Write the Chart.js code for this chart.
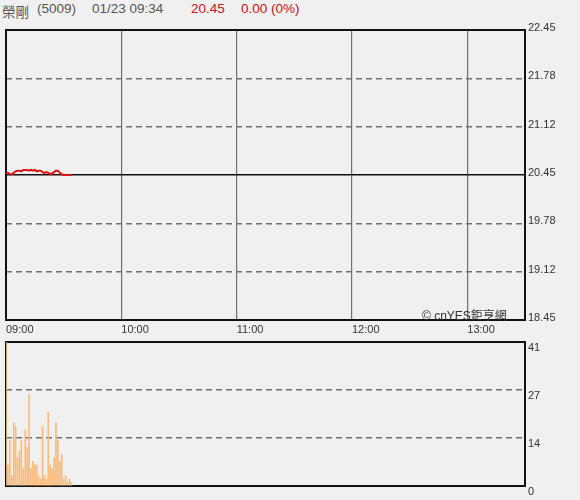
<!DOCTYPE html>
<html>
<head>
<meta charset="utf-8">
<script src="https://cdn.jsdelivr.net/npm/chart.js@4"></script>
<style>
  body { margin: 0; background: #f0f0f0; font-family: Arial, "Liberation Sans", "Noto Sans CJK TC", sans-serif; }
  #wrap { position: relative; width: 580px; height: 500px; overflow: hidden; }
  .hd { position: absolute; top: 1px; font-size: 13.5px; color: #555; white-space: nowrap; }
  .red { color: #cc1111; }
  #priceBox { position: absolute; left: 0; top: 0; width: 580px; height: 338px; }
  #volBox { position: absolute; left: 0; top: 336px; width: 580px; height: 164px; }
  #mark { position: absolute; left: 422px; top: 306px; font-size: 12px; color: #333; white-space: nowrap; }
</style>
</head>
<body>
<div id="wrap">
  <span class="hd" style="left:2px">榮剛</span>
  <span class="hd" style="left:37px">(5009)</span>
  <span class="hd" style="left:92px">01/23 09:34</span>
  <span class="hd red" style="left:191px">20.45</span>
  <span class="hd red" style="left:241px">0.00 (0%)</span>
  <div id="priceBox"><canvas id="priceChart"></canvas></div>
  <div id="volBox"><canvas id="volChart"></canvas></div>
  <div id="mark">© cnYES鉅亨網</div>
</div>
<script>
// minutes from 09:00, one value per minute (09:00 - 09:34)
const PRICE = [20.48, 20.48, 20.46, 20.46, 20.48, 20.50, 20.51, 20.51, 20.50, 20.52,
               20.52, 20.52, 20.51, 20.52, 20.51, 20.52, 20.50, 20.51, 20.51, 20.49,
               20.48, 20.49, 20.48, 20.46, 20.47, 20.49, 20.51, 20.51, 20.48, 20.46,
               20.45, 20.45, 20.45, 20.45, 20.45];
const VOLUME = [41, 6, 13, 3, 18, 17, 8, 10, 13, 5,
                16, 11, 26, 5, 7, 6, 6, 3, 2, 17,
                3, 2, 21, 6, 5, 8, 18, 13, 7, 9,
                2, 3, 1, 2, 1];
const REF_PRICE = 20.45;
const PRICE_MIN = 18.45, PRICE_MAX = 22.45;
const VOL_MAX = 41;
const SESSION_MIN = 270; // 09:00 - 13:30
const HOUR_TICKS = [0, 60, 120, 180, 240];

const fmtTime = m => String(9 + Math.floor(m / 60)).padStart(2, '0') + ':' + String(m % 60).padStart(2, '0');

const boxPlugin = {
  id: 'box',
  beforeDatasetsDraw(chart) {
    const a = chart.chartArea, ctx = chart.ctx;
    ctx.save();
    ctx.strokeStyle = '#111';
    ctx.lineWidth = 2;
    ctx.strokeRect(a.left, a.top, a.right - a.left, a.bottom - a.top);
    ctx.restore();
  }
};

const yFit = s => { s.width = 55; s.paddingTop = 0; s.paddingBottom = 0; };
const tickFont = { family: 'Arial, "Liberation Sans", sans-serif', size: 11 };
const isRef = c => c.tick && Math.abs(c.tick.value - REF_PRICE) < 0.001;

const priceData = PRICE.map((v, i) => ({ x: i, y: v }));

new Chart(document.getElementById('priceChart'), {
  type: 'line',
  data: {
    datasets: [{
      data: priceData,
      borderColor: '#e01010',
      borderWidth: 2,
      pointRadius: 0,
      tension: 0
    }]
  },
  options: {
    responsive: true,
    maintainAspectRatio: false,
    animation: false,
    layout: { padding: { top: 30, left: 6, right: 0, bottom: 0 } },
    plugins: { legend: { display: false }, tooltip: { enabled: false } },
    scales: {
      x: {
        type: 'linear',
        min: 0,
        max: SESSION_MIN,
        afterBuildTicks: s => { s.ticks = HOUR_TICKS.map(v => ({ value: v })); },
        afterFit: s => { s.height = 18; s.paddingLeft = 0; s.paddingRight = 0; },
        ticks: { callback: v => fmtTime(v), align: 'start', padding: 3, color: '#333', font: tickFont, maxRotation: 0, autoSkip: false },
        grid: { color: '#707070', lineWidth: 1.2, drawTicks: false },
        border: { display: false }
      },
      y: {
        position: 'right',
        min: PRICE_MIN,
        max: PRICE_MAX,
        afterBuildTicks: s => {
          s.ticks = [0, 1, 2, 3, 4, 5, 6].map(i => ({ value: PRICE_MIN + i * (PRICE_MAX - PRICE_MIN) / 6 }));
        },
        afterFit: yFit,
        ticks: { callback: v => v.toFixed(2), padding: 3, labelOffset: -2, color: '#333', font: tickFont },
        grid: {
          drawTicks: false,
          color: c => isRef(c) ? '#111' : '#707070',
          lineWidth: c => isRef(c) ? 1.5 : 1.5
        },
        border: {
          display: false,
          dash: c => isRef(c) ? [] : [6, 4]
        }
      }
    }
  },
  plugins: [boxPlugin]
});

const minuteLabels = [];
for (let m = 0; m <= SESSION_MIN; m++) minuteLabels.push(fmtTime(m));

new Chart(document.getElementById('volChart'), {
  type: 'bar',
  data: {
    labels: minuteLabels,
    datasets: [{
      data: VOLUME,
      backgroundColor: '#f9bb7c',
      barThickness: 1,
      borderWidth: 0
    }]
  },
  options: {
    responsive: true,
    maintainAspectRatio: false,
    animation: false,
    layout: { padding: { top: 6, left: 6, right: 0, bottom: 14 } },
    plugins: { legend: { display: false }, tooltip: { enabled: false } },
    scales: {
      x: {
        display: false,
        offset: false,
        grid: { display: false }
      },
      y: {
        position: 'right',
        min: 0,
        max: VOL_MAX,
        afterBuildTicks: s => {
          s.ticks = [0, 1, 2, 3].map(i => ({ value: i * VOL_MAX / 3 }));
        },
        afterFit: yFit,
        ticks: { callback: v => Math.round(v), padding: 3, labelOffset: 6, color: '#333', font: tickFont },
        grid: { drawTicks: false, color: '#707070', lineWidth: 1.5 },
        border: { display: false, dash: [6, 4] }
      }
    }
  },
  plugins: [boxPlugin]
});
</script>
</body>
</html>
